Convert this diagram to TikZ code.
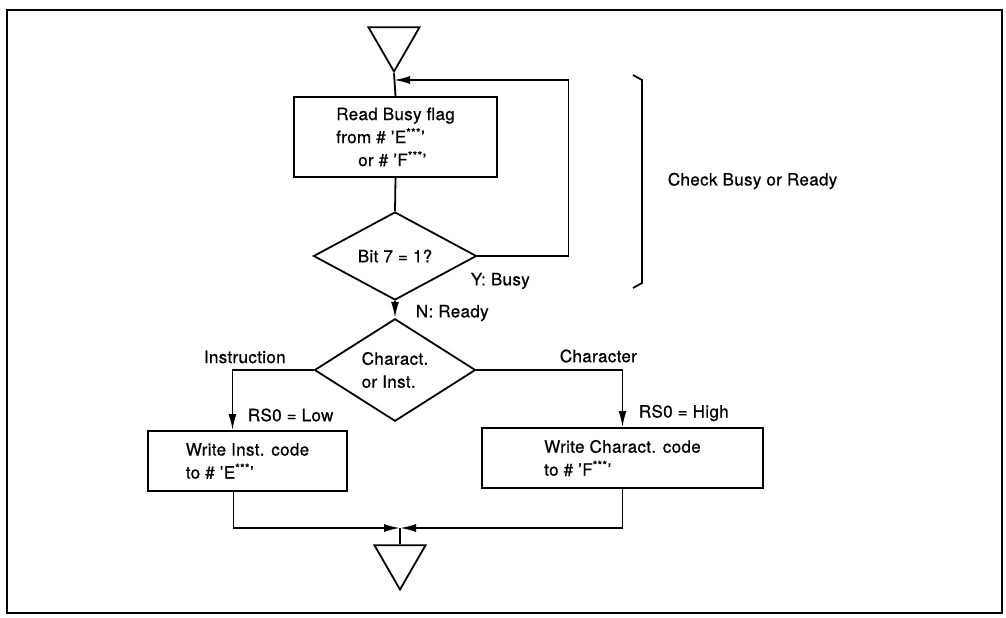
\documentclass[tikz,border=0pt]{standalone}
\usepackage{fontspec}
\setmainfont{TeX Gyre Heros}[LetterSpace=2, FakeBold=0.8]
\usepackage{tikz}
\usetikzlibrary{shapes.geometric, arrows.meta, positioning, calc}

\begin{document}
\begin{tikzpicture}[x=1pt, y=-1pt, font=\fontsize{17}{23}\selectfont, line width=1.8pt,
  procbox/.style={draw, rectangle, align=left, inner sep=0pt},
  decision/.style={draw, diamond, align=left, inner sep=0pt, minimum width=163pt, minimum height=88pt},
  terminal/.style={draw, regular polygon, regular polygon sides=3, shape border rotate=180, inner sep=0pt, minimum size=59pt},
  arr/.style={-{Latex[length=16pt,width=8pt]}},
  lbl/.style={anchor=west, inner sep=0pt}]
\useasboundingbox (0,0) rectangle (1006,618);
\draw[line width=2.8pt] (7,10) rectangle (1002,613);
% check loop
\node[terminal] (start) at (394,42) {};
\node[procbox, minimum width=203pt, minimum height=80pt] (rdbusy) at (395.5,137) {Read Busy flag\\from \# 'E\textsuperscript{***}'\\\hspace*{22pt}or \# 'F\textsuperscript{***}'};
\node[decision] (bit7) at (395,256) {Bit 7 = 1?};
\coordinate (loopin) at (394,80);
\draw (start.south) -- (rdbusy.north);
\draw (rdbusy.south) -- (bit7.north);
\draw[arr] (bit7.east) -- ++(91,0) |- (loopin);
\node[lbl] (ybusy) at (470,281) {Y: Busy};
\draw (633,75) -- (642,80) -- (642,283) -- (633,288);
\node[lbl] (chk) at (667,181) {Check Busy or Ready};
% select
\node[decision, minimum width=161pt, minimum height=90pt] (selrs) at (395,370) {Charact.\\or Inst.};
\draw[arr] (bit7.south) -- (selrs.north);
\node[lbl] (nready) at (415,313) {N: Ready};
\node[procbox, minimum width=199pt, minimum height=60pt] (wrinst) at (247.5,461) {Write Inst. code\\to \# 'E\textsuperscript{***}'};
\node[procbox, minimum width=281pt, minimum height=60pt] (wrchar) at (622.5,458) {Write Charact. code\\to \# 'F\textsuperscript{***}'};
\draw[arr] (selrs.west) -| ([xshift=-15pt]wrinst.north);
\draw[arr] (selrs.east) -| (wrchar.north);
\node[lbl] (instlbl) at (203,357) {Instruction};
\node[lbl] (charlbl) at (559,356) {Character};
\node[lbl] (rslow) at (247,415) {RS0 = Low};
\node[lbl] (rshigh) at (638,413) {RS0 = High};
% merge
\node[terminal] (stop) at (400,560) {};
\coordinate (merge) at (400,528);
\draw[arr] ([xshift=-14pt]wrinst.south) |- (merge);
\draw[arr] (wrchar.south) |- (merge);
\draw (merge) -- (stop.north);
\end{tikzpicture}
\end{document}
